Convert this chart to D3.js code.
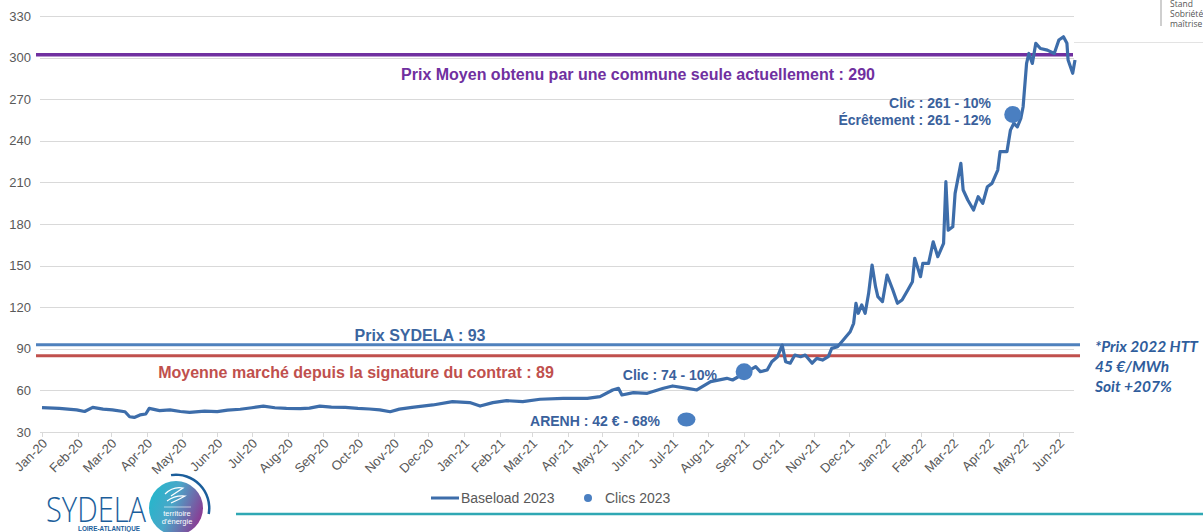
<!DOCTYPE html>
<html>
<head>
<meta charset="utf-8">
<script src="https://cdn.jsdelivr.net/npm/d3@7"></script>
<style>
  body { margin: 0; background: #fff; }
  svg { display: block; font-family: "Liberation Sans", Arial, sans-serif; }
</style>
</head>
<body>
<div id="chart"></div>
<script>
// Baseload 2023 (€/MWh)
var baseDates = [
  "2020-01-01","2020-01-16","2020-01-31","2020-02-07","2020-02-14","2020-02-23","2020-03-02","2020-03-13",
  "2020-03-17","2020-03-21","2020-03-26","2020-03-31","2020-04-03","2020-04-12","2020-04-21","2020-04-30",
  "2020-05-08","2020-05-21","2020-06-01","2020-06-10","2020-06-21","2020-07-01","2020-07-11","2020-07-21",
  "2020-07-31","2020-08-12","2020-08-20","2020-08-29","2020-09-08","2020-09-20","2020-10-01","2020-10-11",
  "2020-10-20","2020-10-29","2020-11-06","2020-11-17","2020-12-05","2020-12-22","2021-01-06","2021-01-15",
  "2021-01-26","2021-02-07","2021-02-21","2021-03-08","2021-03-28","2021-04-18","2021-04-29","2021-05-10",
  "2021-05-15","2021-05-18","2021-05-28","2021-06-09","2021-06-23","2021-07-01","2021-07-14","2021-07-22",
  "2021-08-03","2021-08-17","2021-08-22","2021-09-06","2021-09-11","2021-09-15","2021-09-21","2021-09-25",
  "2021-09-30","2021-10-04","2021-10-07","2021-10-11","2021-10-15","2021-10-20","2021-10-24","2021-10-30",
  "2021-11-03","2021-11-08","2021-11-13","2021-11-16","2021-11-21","2021-11-26","2021-12-02","2021-12-05",
  "2021-12-07","2021-12-09","2021-12-12","2021-12-15","2021-12-18","2021-12-21","2021-12-24","2021-12-26",
  "2021-12-30","2022-01-03","2022-01-08","2022-01-12","2022-01-16","2022-01-21","2022-01-25","2022-01-27",
  "2022-02-01","2022-02-03","2022-02-08","2022-02-12","2022-02-16","2022-02-21","2022-02-23","2022-02-25",
  "2022-03-01","2022-03-03","2022-03-08","2022-03-10","2022-03-14","2022-03-19","2022-03-23","2022-03-27",
  "2022-03-31","2022-04-04","2022-04-09","2022-04-11","2022-04-17","2022-04-20","2022-04-23","2022-04-26",
  "2022-04-29","2022-05-01","2022-05-04","2022-05-06","2022-05-09","2022-05-12","2022-05-16","2022-05-22",
  "2022-05-28","2022-06-01","2022-06-05","2022-06-08","2022-06-09","2022-06-13","2022-06-15"
];
var baseValues = [
  47.6, 47.0, 46.0, 44.8, 47.8, 46.5, 46.0, 44.6,
  41.0, 40.5, 42.3, 43.0, 47.0, 45.4, 46.0, 44.8,
  44.2, 45.0, 44.7, 45.8, 46.4, 47.5, 48.7, 47.5,
  47.0, 46.8, 47.2, 48.7, 48.0, 47.8, 47.0, 46.6,
  46.0, 44.6, 46.5, 47.8, 49.5, 51.9, 51.2, 48.7,
  51.2, 52.6, 51.9, 53.6, 54.3, 54.3, 55.5, 60.3,
  61.5, 56.7, 58.4, 57.9, 61.5, 63.2, 61.5, 60.3,
  66.3, 68.7, 67.5, 74.7, 77.1, 73.5, 74.7, 80.7,
  84.3, 92.7, 80.7, 79.6, 85.5, 84.3, 85.5, 79.6,
  83.1, 81.9, 84.3, 90.3, 91.5, 96.3, 102.3, 108.4,
  122.8, 115.6, 121.6, 115.6, 130.0, 150.4, 134.8, 127.6,
  124.0, 143.2, 132.4, 122.8, 125.2, 132.4, 138.4, 155.3,
  142.0, 151.6, 151.6, 167.2, 156.4, 166.0, 210.5, 175.6,
  178.0, 202.1, 223.7, 204.5, 197.3, 190.1, 199.7, 194.9,
  206.9, 209.3, 218.9, 232.2, 232.2, 247.7, 252.6, 250.1,
  256.2, 264.6, 295.8, 303.0, 295.8, 310.3, 306.6, 305.4,
  303.0, 312.7, 315.0, 310.3, 298.3, 288.7, 298.3
];

// Clics 2023
var clicDates = ["2021-07-13", "2021-09-01", "2022-04-22"];
var clicValues = [39, 73.5, 259];

// reference lines
var refNames = ["Prix Moyen obtenu par une commune seule actuellement : 290",
                "Prix SYDELA : 93",
                "Moyenne marché depuis la signature du contrat : 89"];
var refValues = [302, 93, 85];

var yTicks = [30, 60, 90, 120, 150, 180, 210, 240, 270, 300, 330];
var noteLines = ["*Prix 2022 HTT", "45 €/MWh", "Soit +207%"];

var W = 1203, H = 532;
var parse = d3.timeParse("%Y-%m-%d");
var data = baseDates.map(function(d, i){ return {date: parse(d), value: baseValues[i]}; });
var clics = clicDates.map(function(d, i){ return {date: parse(d), value: clicValues[i]}; });

var svg = d3.select("#chart").append("svg").attr("width", W).attr("height", H);

var x = d3.scaleTime().domain([parse("2020-01-01"), parse("2022-06-15")]).range([42, 1075]);
var y = d3.scaleLinear().domain([30, 330]).range([432, 16]);

// grid
svg.append("g").selectAll("line").data(yTicks).enter().append("line")
  .attr("x1", 40).attr("x2", 1074)
  .attr("y1", function(d){ return Math.round(y(d)) + 0.5; })
  .attr("y2", function(d){ return Math.round(y(d)) + 0.5; })
  .style("stroke", "#d9d9d9").style("stroke-width", 1);

svg.append("g").selectAll("text").data(yTicks).enter().append("text")
  .attr("x", 31).attr("y", function(d){ return y(d); }).attr("dy", "0.35em")
  .attr("text-anchor", "end").style("font-size", "13px").style("fill", "#595959")
  .text(function(d){ return d; });

// x axis
var months = d3.timeMonth.range(parse("2020-01-01"), parse("2022-06-02"));
var xa = svg.append("g");
xa.selectAll("line").data(months).enter().append("line")
  .attr("x1", function(d){ return Math.round(x(d)) + 0.5; })
  .attr("x2", function(d){ return Math.round(x(d)) + 0.5; })
  .attr("y1", 432).attr("y2", 437)
  .style("stroke", "#d9d9d9");
xa.selectAll("text").data(months).enter().append("text")
  .attr("transform", function(d){ return "translate(" + (x(d) + 3) + ",441) rotate(-45)"; })
  .attr("text-anchor", "end").attr("dy", "0.35em")
  .style("font-size", "13px").style("fill", "#595959")
  .text(d3.timeFormat("%b-%y"));

// reference lines
var refColors = ["#7030a0", "#4f81bd", "#c0504d"];
var refX2 = [1073, 1080, 1080];
svg.append("g").selectAll("line").data(refValues).enter().append("line")
  .attr("x1", 36).attr("x2", function(d, i){ return refX2[i]; })
  .attr("y1", function(d){ return y(d); }).attr("y2", function(d){ return y(d); })
  .style("stroke", function(d, i){ return refColors[i]; })
  .style("stroke-width", function(d, i){ return i == 0 ? 3.5 : 3; });

// baseload line
var line = d3.line().x(function(d){ return x(d.date); }).y(function(d){ return y(d.value); });
svg.append("path").datum(data).attr("d", line)
  .style("fill", "none").style("stroke", "#3d6daa").style("stroke-width", 3.2)
  .style("stroke-linejoin", "round");

// clics
svg.append("g").selectAll("ellipse").data(clics).enter().append("ellipse")
  .attr("cx", function(d){ return x(d.date); }).attr("cy", function(d){ return y(d.value); })
  .attr("rx", function(d, i){ return i == 0 ? 9 : 8.5; })
  .attr("ry", function(d, i){ return i == 0 ? 7 : 8.5; })
  .style("fill", "#4a7fc1");

// labels
function label(txt, px, py, anchor, color, size){
  svg.append("text").attr("x", px).attr("y", py).attr("text-anchor", anchor)
    .style("font-size", size + "px").style("font-weight", "bold").style("fill", color)
    .text(txt);
}
label(refNames[0], 638, 80, "middle", "#7030a0", 16);
label(refNames[1], 420, 341, "middle", "#3b65a0", 16);
label(refNames[2], 356, 378, "middle", "#c0504d", 16);
label("Clic : 74 - 10%", 717, 380, "end", "#3a619c", 14);
label("ARENH : 42 € - 68%", 660, 426, "end", "#3a619c", 14);
label("Clic : 261 - 10%", 991, 108, "end", "#3a619c", 14);
label("Écrêtement : 261 - 12%", 991, 125, "end", "#3a619c", 14);

svg.append("g").selectAll("text").data(noteLines).enter().append("text")
  .attr("x", 1095).attr("y", function(d, i){ return 352 + i * 20; })
  .style("font-family", "Lato, 'Open Sans', sans-serif")
  .style("font-size", "15.5px").style("font-weight", "bold").style("font-style", "italic")
  .style("fill", "#2f5d9c").text(function(d){ return d; });

// legend
var lg = svg.append("g");
lg.append("line").attr("x1", 431).attr("x2", 459).attr("y1", 498).attr("y2", 498)
  .style("stroke", "#3d6daa").style("stroke-width", 3);
lg.append("text").attr("x", 461).attr("y", 503).style("font-size", "14px").style("fill", "#595959").text("Baseload 2023");
lg.append("circle").attr("cx", 588).attr("cy", 498).attr("r", 4).style("fill", "#4a7fc1");
lg.append("text").attr("x", 605).attr("y", 503).style("font-size", "14px").style("fill", "#595959").text("Clics 2023");

// slide decorations
svg.append("line").attr("x1", 236).attr("x2", W).attr("y1", 514).attr("y2", 514)
  .style("stroke", "#2fa8b4").style("stroke-width", 2.5);
svg.append("line").attr("x1", 1074).attr("x2", W).attr("y1", 42.5).attr("y2", 42.5)
  .style("stroke", "#e3e3e3");
svg.append("line").attr("x1", 1161).attr("x2", 1161).attr("y1", 0).attr("y2", 26)
  .style("stroke", "#bfbfbf").style("stroke-width", 1.5);
svg.append("g").selectAll("text").data(["Stand", "Sobriété é", "maîtrise d"]).enter().append("text")
  .attr("x", 1170).attr("y", function(d, i){ return 7 + i * 10; })
  .style("font-family", "'Open Sans', sans-serif").style("font-size", "8.5px").style("fill", "#555")
  .text(function(d){ return d; });

// logo
var defs = svg.append("defs");
var grad = defs.append("linearGradient").attr("id", "lg1").attr("x1", "0").attr("x2", "1").attr("y1", "0.2").attr("y2", "0.6");
grad.append("stop").attr("offset", "0%").attr("stop-color", "#22b8cc");
grad.append("stop").attr("offset", "45%").attr("stop-color", "#4aa6c8");
grad.append("stop").attr("offset", "100%").attr("stop-color", "#8b3a93");
svg.append("circle").attr("cx", 176).attr("cy", 508).attr("r", 27).style("fill", "url(#lg1)");
var arc = d3.arc().innerRadius(32).outerRadius(34.5).startAngle(-0.15).endAngle(1.75);
svg.append("path").attr("d", arc()).attr("transform", "translate(176,508)").style("fill", "#1b5e9b");
svg.append("path").attr("d", "M165,494 q8,-8 18,-6 q-6,4 -12,8 M167,501 q8,-6 18,-5 q-7,4 -14,7")
  .style("fill", "none").style("stroke", "#fff").style("stroke-width", 1.2);
svg.append("line").attr("x1", 164).attr("x2", 191).attr("y1", 507).attr("y2", 507).style("stroke", "#fff").style("stroke-width", 0.6);
svg.append("text").attr("x", 177).attr("y", 516).attr("text-anchor", "middle")
  .style("font-size", "7.5px").style("fill", "#fff").text("territoire");
svg.append("text").attr("x", 177).attr("y", 524).attr("text-anchor", "middle")
  .style("font-size", "7.5px").style("fill", "#fff").text("d'énergie");
svg.append("text").attr("x", 46).attr("y", 522)
  .attr("textLength", 100).attr("lengthAdjust", "spacingAndGlyphs")
  .style("font-family", "'Open Sans', sans-serif").style("font-size", "34px").style("font-weight", "300")
  .style("fill", "#1b5e9b").text("SYDELA");
svg.append("text").attr("x", 78).attr("y", 531)
  .attr("textLength", 62).attr("lengthAdjust", "spacingAndGlyphs")
  .style("font-size", "7px").style("font-weight", "bold").style("fill", "#1b5e9b").text("LOIRE-ATLANTIQUE");
</script>
</body>
</html>
